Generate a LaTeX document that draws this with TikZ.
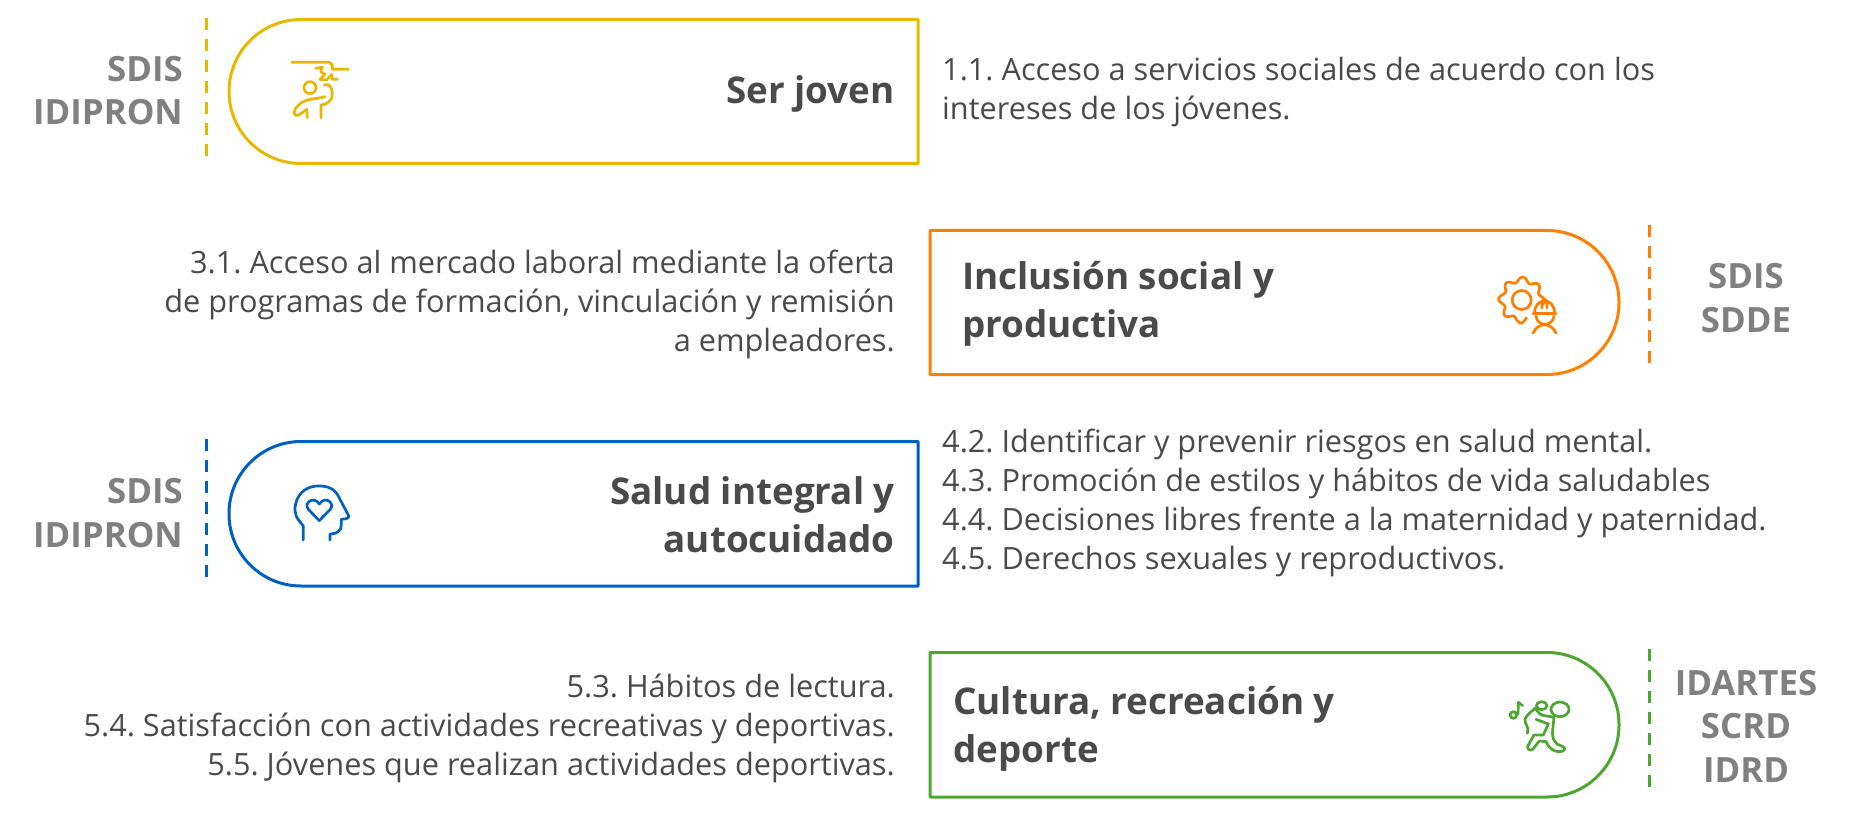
\documentclass[tikz,border=0pt]{standalone}
\usepackage{fontspec}
\setmainfont{Open Sans}
\definecolor{serjoven}{HTML}{E8B800}
\definecolor{inclusion}{HTML}{FF8000}
\definecolor{salud}{HTML}{0060BF}
\definecolor{cultura}{HTML}{4DA62F}
\definecolor{agencygray}{HTML}{808080}
\definecolor{bodygray}{HTML}{4A4A4A}
\tikzset{
	pill/.style={line width=3pt, line join=round},
	divider/.style={line width=3pt, dash pattern=on 12pt off 9pt},
	icon/.style={line width=2.7pt, line cap=round, line join=round},
	title/.style={inner sep=0pt, text=bodygray, font=\frenchspacing\fontsize{36.8}{48}\selectfont\bfseries},
	bodytext/.style={inner sep=0pt, text=bodygray, font=\frenchspacing\fontsize{30.7}{39}\selectfont},
	agency/.style={inner sep=0pt, text=agencygray, font=\fontsize{34.8}{43.3}\selectfont\bfseries}
}
\begin{document}
\begin{tikzpicture}[x=1pt, y=-1pt]
	\useasboundingbox (0,0) rectangle (1866,829);

	% pills
	\draw [pill, serjoven]	(918,19.5) -- (400,19.5) {[rounded corners=72pt] -- (229,19.5) -- (229,163.5) -- (400,163.5)} -- (918,163.5) -- cycle;
	\draw [pill, inclusion]	(930,230.5) -- (1400,230.5) {[rounded corners=72pt] -- (1619,230.5) -- (1619,374.5) -- (1400,374.5)} -- (930,374.5) -- cycle;
	\draw [pill, salud]	(918,441.5) -- (400,441.5) {[rounded corners=72pt] -- (229,441.5) -- (229,586) -- (400,586)} -- (918,586) -- cycle;
	\draw [pill, cultura]	(930,652.5) -- (1400,652.5) {[rounded corners=72pt] -- (1619,652.5) -- (1619,797) -- (1400,797)} -- (930,797) -- cycle;

	% dashes
	\draw [divider, serjoven]	(206.5,18) -- (206.5,157);
	\draw [divider, inclusion]	(1649,225) -- (1649,364);
	\draw [divider, salud]	(206.5,439) -- (206.5,578);
	\draw [divider, cultura]	(1649,649) -- (1649,788);

	% titles
	\node [title, anchor=base east] (serTitle) at (895,104) {Ser joven};
	\node [title, anchor=base west, align=left] (inclusionTitle) at (962,337) {Inclusión social y\\productiva};
	\node [title, anchor=base east, align=right] (saludTitle) at (895,552) {Salud integral y\\autocuidado};
	\node [title, anchor=base west, align=left] (culturaTitle) at (953,762) {Cultura, recreación y\\deporte};

	% body
	\node [bodytext, anchor=base west, align=left] (serBody) at (942,120) {1.1. Acceso a servicios sociales de acuerdo con los\\intereses de los jóvenes.};
	\node [bodytext, anchor=base east, align=right] (inclusionBody) at (895,351) {3.1. Acceso al mercado laboral mediante la oferta\\de programas de formación, vinculación y remisión\\a empleadores.};
	\node [bodytext, anchor=base west, align=left] (saludBody) at (942,569) {4.2. Identificar y prevenir riesgos en salud mental.\\4.3. Promoción de estilos y hábitos de vida saludables\\4.4. Decisiones libres frente a la maternidad y paternidad.\\4.5. Derechos sexuales y reproductivos.};
	\node [bodytext, anchor=base east, align=right] (culturaBody) at (895,775) {5.3. Hábitos de lectura.\\5.4. Satisfacción con actividades recreativas y deportivas.\\5.5. Jóvenes que realizan actividades deportivas.};

	% agencies
	\node [agency, anchor=base east, align=right] (serAgency) at (183,125) {SDIS\\IDIPRON};
	\node [agency, anchor=base, align=center] (inclusionAgency) at (1746,332) {SDIS\\SDDE};
	\node [agency, anchor=base east, align=right] (saludAgency) at (183,547) {SDIS\\IDIPRON};
	\node [agency, anchor=base, align=center] (culturaAgency) at (1746,782) {IDARTES\\SCRD\\IDRD};

	% icon ser joven
	\begin{scope}[shift={(270,40)}, x=0.3333pt, y=-0.3333pt, icon, serjoven]
		\draw (65,67) -- (178,67) -- (187,74) -- (187,88) -- (235,88);
		\draw (137,85) -- (157,82) -- (152,95) -- (165,103) -- (150,118) -- (170,120) -- (185,103) -- (187,118) -- (202,118);
		\draw (120,143) circle [radius=6pt];
		\draw (163,135) .. controls (178,130) and (185,140) .. (187,160) .. controls (190,180) and (170,195) .. (153,195) -- (153,233);
		\draw (165,170) .. controls (140,178) and (100,175) .. (85,197) .. controls (65,212) and (72,232) .. (85,226) -- (110,208) -- (112,233);
	\end{scope}

	% icon inclusion
	\begin{scope}[icon, inclusion]
		\draw (1521.7,300) circle [radius=9.5pt];
		\draw plot [smooth, domain=-12:285, samples=80] ({1521.7+(20.5+2.6*cos(8*\x+22))*cos(\x)}, {300-(20.5+2.6*cos(8*\x+22))*sin(\x)});
		\draw (1533,313.5) -- (1556,313.5);
		\draw (1534.5,313) .. controls (1534.5,297) and (1554.5,297) .. (1554.5,313);
		\draw (1536,316) .. controls (1537,327) and (1553,327) .. (1554,316);
		\draw (1542,308) -- (1542,302) .. controls (1542,299) and (1547,299) .. (1547,302) -- (1547,308);
		\draw (1533,333) .. controls (1538,322) and (1551,322) .. (1556,333);
	\end{scope}

	% icon salud
	\begin{scope}[shift={(200,430)}, x=0.3333pt, y=-0.3333pt, icon, salud]
		\draw (310,330) -- (310,288) .. controls (290,265) and (280,250) .. (287,222) .. controls (295,185) and (325,167) .. (358,168) .. controls (395,168) and (410,185) .. (420,208) -- (445,255) .. controls (450,265) and (440,267) .. (424,268) -- (424,285) .. controls (424,303) and (410,312) .. (390,312) -- (390,330);
		\draw (358,272) -- (325,238) .. controls (310,220) and (340,195) .. (358,222) .. controls (376,195) and (406,220) .. (391,238) -- cycle;
	\end{scope}

	% icon cultura
	\begin{scope}[shift={(1450,640)}, x=0.3333pt, y=-0.3333pt, icon, cultura]
		\draw (190,225) circle [radius=3.3pt];
		\draw (204,222) -- (205,187) -- (218,197);
		\draw (330,208) ellipse [x radius=9pt, y radius=7.3pt];
		\draw (275,197) ellipse [x radius=5.3pt, y radius=4pt];
		\draw (232,280) .. controls (240,262) and (222,250) .. (225,238) .. controls (228,225) and (245,215) .. (255,205) -- (270,222) .. controls (285,230) and (300,228) .. (312,232) -- (308,270) .. controls (305,295) and (315,315) .. (335,318) .. controls (350,322) and (345,335) .. (330,335) .. controls (305,335) and (295,320) .. (288,305) -- (268,303) -- (248,328) .. controls (238,335) and (228,325) .. (235,315) -- (252,285) -- (280,285) -- (295,252) -- (258,238);
	\end{scope}
\end{tikzpicture}
\end{document}
